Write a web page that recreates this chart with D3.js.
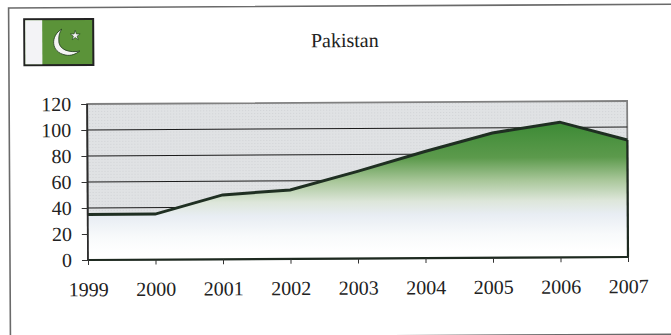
<!DOCTYPE html>
<html><head><meta charset="utf-8">
<script src="https://cdnjs.cloudflare.com/ajax/libs/d3/7.8.5/d3.min.js"></script>
<style>html,body{margin:0;padding:0;background:#fff;overflow:hidden}svg{display:block}</style></head>
<body><svg id="c" width="671" height="335"></svg>
<script>
const years=[1999,2000,2001,2002,2003,2004,2005,2006,2007];
const values=[35,35,49.5,53,67,82,96,104,90];
const yTicks=[0,20,40,60,80,100,120];
const titleText="Pakistan";
const root=d3.select("#c");
const svg=root.append("g").attr("transform","rotate(-0.32,88,260)");
const font="'Liberation Serif','Times New Roman',serif";
const x=d3.scalePoint().domain(years).range([88,628]);
const y=d3.scaleLinear().domain([0,120]).range([260,104]);
const defs=root.append("defs");
const g=defs.append("linearGradient").attr("id","fill").attr("gradientUnits","userSpaceOnUse")
 .attr("x1",0).attr("x2",0).attr("y1",y(104)).attr("y2",y(0));
[[0,"#3c8a35"],[.26,"#5c9a4c"],[.43,"#a9c79a"],[.58,"#dde6da"],[.68,"#e8edf3"],[.83,"#f8fafb"],[.95,"#ffffff"]]
 .forEach(s=>g.append("stop").attr("offset",s[0]).attr("stop-color",s[1]));
const p=defs.append("pattern").attr("id","dots").attr("width",3).attr("height",3).attr("patternUnits","userSpaceOnUse");
p.append("rect").attr("width",3).attr("height",3).attr("fill","#e0e2e4");
p.append("rect").attr("width",1).attr("height",1).attr("fill","#d0d2d5");
svg.append("rect").attr("x",10).attr("y",7.5).attr("width",700).attr("height",330).attr("fill","#fff").attr("stroke","#6a6a6a").attr("stroke-width",1.6);
// flag
const fx=25.5,fy=19,fw=69,fh=46;
const fl=svg.append("g");
fl.append("rect").attr("x",fx).attr("y",fy).attr("width",fw).attr("height",fh).attr("fill","#5b9339").attr("stroke","#222").attr("stroke-width",2);
fl.append("rect").attr("x",fx+1).attr("y",fy+1).attr("width",17).attr("height",fh-2).attr("fill","#f3f3f6");
fl.append("path").attr("d","M63 29 C52 35 51 52 67 55 C72 56 77 54 81 51 C71 53 59 50 60 39 C60 35 61 32 63 29Z").attr("fill","#f4f4f4").attr("stroke","#1d3a1a").attr("stroke-width",.8);
fl.append("path").attr("d",d3.symbol().type(d3.symbolStar).size(30)()).attr("transform","translate(76.5,35.5)").attr("fill","#f0f0f0").attr("stroke","#1d3a1a").attr("stroke-width",.6);
svg.append("text").attr("x",346).attr("y",48.5).attr("text-anchor","middle").attr("font-family",font).attr("font-size",20).attr("fill","#222").text(titleText);
// plot
svg.append("rect").attr("x",88).attr("y",104).attr("width",540).attr("height",156).attr("fill","url(#dots)").attr("stroke","#808080").attr("stroke-width",1.8);
svg.append("g").selectAll("line").data(yTicks.filter(d=>d>0&&d<120)).join("line")
 .attr("x1",88).attr("x2",628).attr("y1",d=>y(d)).attr("y2",d=>y(d)).attr("stroke","#1c1c1c").attr("stroke-width",1);
const area=d3.area().x((d,i)=>x(years[i])).y0(y(0)).y1(d=>y(d));
const line=d3.line().x((d,i)=>x(years[i])).y(d=>y(d));
svg.append("path").datum(values).attr("d",area).attr("fill","url(#fill)");
svg.append("path").datum(values).attr("d",line).attr("fill","none").attr("stroke","#1f2f22").attr("stroke-width",3);
// frame
const fr="#1e2a20";
svg.append("line").attr("x1",x(2007)).attr("x2",x(2007)).attr("y1",y(values[8])).attr("y2",y(0)).attr("stroke",fr).attr("stroke-width",2.2);
svg.append("line").attr("x1",88).attr("x2",x(2007)+1).attr("y1",y(0)).attr("y2",y(0)).attr("stroke",fr).attr("stroke-width",2.2);
svg.append("line").attr("x1",88).attr("x2",88).attr("y1",y(120)).attr("y2",y(0)).attr("stroke","#2c2c2c").attr("stroke-width",1.8);
const yAxis=d3.axisLeft(y).tickValues(yTicks).tickSize(6).tickPadding(10).tickFormat(d3.format("d"));
const ya=svg.append("g").attr("transform","translate(88,0)").call(yAxis);
ya.select(".domain").remove();
ya.selectAll("text").attr("font-family",font).attr("font-size",20).attr("fill","#222");
ya.selectAll("line").attr("stroke","#333");
const xAxis=d3.axisBottom(x).tickSize(5).tickPadding(17).tickFormat(d3.format("d"));
const xa=svg.append("g").attr("transform","translate(0,260)").call(xAxis);
xa.select(".domain").remove();
xa.selectAll("text").attr("font-family",font).attr("font-size",20).attr("fill","#222");
xa.selectAll("line").attr("stroke","#333");
</script></body></html>
